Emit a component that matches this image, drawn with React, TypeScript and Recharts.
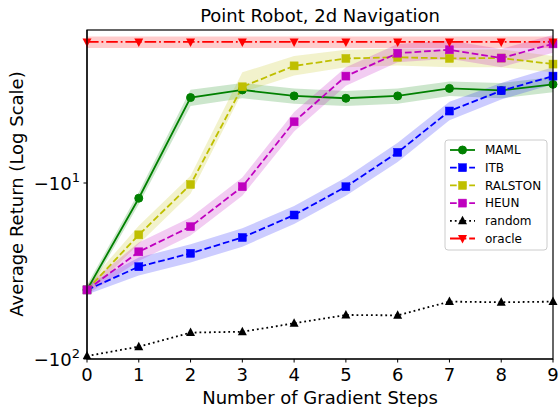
import React from 'react';
import { ComposedChart, Line, Area, XAxis, YAxis } from 'recharts';

const steps = [0, 1, 2, 3, 4, 5, 6, 7, 8, 9];

const mamlMean = [-40.5, -12.2, -3.27, -2.96, -3.2, -3.3, -3.2, -2.9, -2.98, -2.75];
const mamlLow = [-43, -13.2, -3.65, -3.3, -3.55, -3.65, -3.55, -3.2, -3.3, -3.05];
const mamlHigh = [-38, -11.3, -2.95, -2.7, -2.9, -3.0, -2.9, -2.65, -2.7, -2.5];

const itbMean = [-40.5, -29.9, -25.1, -20.4, -15.2, -10.5, -6.7, -3.9, -2.99, -2.47];
const itbLow = [-43, -33.5, -28.3, -23, -17.1, -11.8, -7.6, -4.4, -3.35, -2.75];
const itbHigh = [-38, -26.5, -22.3, -18.1, -13.5, -9.3, -5.9, -3.45, -2.7, -2.2];

const ralstonMean = [-40.5, -19.7, -10.2, -2.84, -2.16, -1.96, -1.93, -1.96, -1.95, -2.11];
const ralstonLow = [-43, -22.2, -11.5, -3.05, -2.45, -2.2, -2.15, -2.2, -2.2, -2.35];
const ralstonHigh = [-38, -17.5, -9.1, -2.35, -1.9, -1.75, -1.72, -1.75, -1.74, -1.9];

const heunMean = [-40.5, -24.6, -17.7, -10.5, -4.49, -2.47, -1.83, -1.75, -1.95, -1.62];
const heunLow = [-43, -27.7, -19.9, -11.8, -5.1, -2.8, -2.06, -1.97, -2.2, -1.82];
const heunHigh = [-38, -21.8, -15.7, -9.3, -3.95, -2.2, -1.62, -1.55, -1.73, -1.44];

const randomMean = [-96.2, -85.1, -70.8, -70, -62.7, -56.2, -56.5, -47.2, -47.6, -47.2];

const oracleMean = [-1.58, -1.58, -1.58, -1.58, -1.58, -1.58, -1.58, -1.58, -1.58, -1.58];
const oracleLow = [-1.71, -1.71, -1.71, -1.71, -1.71, -1.71, -1.71, -1.71, -1.71, -1.71];
const oracleHigh = [-1.47, -1.47, -1.47, -1.47, -1.47, -1.47, -1.47, -1.47, -1.47, -1.47];

const yTicks = [-100, -10];
const yTickExp = { '-100': '2', '-10': '1' } as Record<string, string>;

const data = steps.map((s, i) => ({
  step: s,
  maml: mamlMean[i],
  mamlBand: [mamlLow[i], mamlHigh[i]],
  itb: itbMean[i],
  itbBand: [itbLow[i], itbHigh[i]],
  ralston: ralstonMean[i],
  ralstonBand: [ralstonLow[i], ralstonHigh[i]],
  heun: heunMean[i],
  heunBand: [heunLow[i], heunHigh[i]],
  random: randomMean[i],
  oracle: oracleMean[i],
  oracleBand: [oracleLow[i], oracleHigh[i]],
}));

const FONT = 'DejaVu Sans';

// plot box (matches chart margins + axis sizes below)
const PLOT = { left: 87, top: 30, right: 553, bottom: 359 };

type MarkerKind = 'circle' | 'square' | 'up' | 'down';

const Marker = ({ kind, cx, cy, color }: { kind: MarkerKind; cx: number; cy: number; color: string }) => {
  if (kind === 'circle') return <circle cx={cx} cy={cy} r={4} fill={color} stroke={color} />;
  if (kind === 'square') return <rect x={cx - 4} y={cy - 4} width={8} height={8} fill={color} stroke={color} strokeWidth={0.5} />;
  if (kind === 'up')
    return <polygon points={`${cx},${cy - 5} ${cx - 4.5},${cy + 3.5} ${cx + 4.5},${cy + 3.5}`} fill={color} />;
  return <polygon points={`${cx},${cy + 5} ${cx - 4.5},${cy - 3.5} ${cx + 4.5},${cy - 3.5}`} fill={color} />;
};

const dotOf = (kind: MarkerKind, color: string) => (p: any) =>
  <Marker key={`${kind}-${color}-${p.index}`} kind={kind} cx={p.cx} cy={p.cy} color={color} />;

const series = [
  { key: 'maml', name: 'MAML', color: '#008000', dash: undefined, kind: 'circle' as MarkerKind, band: 'mamlBand' },
  { key: 'itb', name: 'ITB', color: '#0000ff', dash: '6.7 2.9', kind: 'square' as MarkerKind, band: 'itbBand' },
  { key: 'ralston', name: 'RALSTON', color: '#bfbf00', dash: '6.7 2.9', kind: 'square' as MarkerKind, band: 'ralstonBand' },
  { key: 'heun', name: 'HEUN', color: '#bf00bf', dash: '6.7 2.9', kind: 'square' as MarkerKind, band: 'heunBand' },
  { key: 'random', name: 'random', color: '#000000', dash: '1.8 3', kind: 'up' as MarkerKind, band: null },
  { key: 'oracle', name: 'oracle', color: '#ff0000', dash: '11.6 2.9 1.8 2.9', kind: 'down' as MarkerKind, band: 'oracleBand' },
];

const YTick = (props: any) => {
  const { x, y, payload } = props;
  return (
    <text x={x} y={y + 6.5} textAnchor="end" fontFamily={FONT} fontSize={18} fill="#000">
      <tspan>−10</tspan>
      <tspan dy={-8} fontSize={13}>{yTickExp[String(payload.value)]}</tspan>
    </text>
  );
};

const Legend = () => (
  <g>
    <rect x={445} y={140} width={102} height={110} rx={3} fill="#fff" fillOpacity={0.8} stroke="#ccc" />
    {series.map((s, i) => {
      const y = 150 + i * 17.7;
      return (
        <g key={s.key}>
          <line x1={450} x2={475} y1={y} y2={y} stroke={s.color} strokeWidth={1.8} strokeDasharray={s.dash} />
          <Marker kind={s.kind} cx={462.5} cy={y} color={s.color} />
          <text x={485} y={y + 4.3} fontFamily={FONT} fontSize={12} fill="#000">{s.name}</text>
        </g>
      );
    })}
  </g>
);

export default function App() {
  return (
    <div style={{ position: 'absolute', left: 0, top: 0, width: 559, height: 407, background: '#fff' }}>
      <ComposedChart width={559} height={407} data={data} margin={{ top: 30, right: 6, left: 0, bottom: 0 }}>
        <XAxis
          dataKey="step"
          type="number"
          domain={[0, 9]}
          ticks={steps}
          height={48}
          axisLine={{ stroke: '#000', strokeWidth: 1.2 }}
          tickLine={{ stroke: '#000' }}
          tickSize={3.5}
          tickMargin={6}
          tick={{ fill: '#000', fontSize: 18, fontFamily: FONT }}
          interval={0}
        />
        <YAxis
          type="number"
          scale="log"
          domain={[-100, -1.351]}
          allowDataOverflow
          ticks={yTicks}
          width={87}
          axisLine={{ stroke: '#000', strokeWidth: 1.2 }}
          tickLine={{ stroke: '#000' }}
          tickSize={3.5}
          tickMargin={3.5}
          tick={<YTick />}
          interval={0}
        />
        {series.flatMap((s) => {
          const els = [];
          if (s.band) {
            els.push(
              <Area key={s.key + '-band'} dataKey={s.band} stroke="none" fill={s.color} fillOpacity={0.2}
                isAnimationActive={false} dot={false} activeDot={false} type="linear" />
            );
          }
          els.push(
            <Line key={s.key} dataKey={s.key} stroke={s.color} strokeWidth={1.8} strokeDasharray={s.dash}
              dot={dotOf(s.kind, s.color)} activeDot={false} isAnimationActive={false} type="linear" />
          );
          return els;
        })}
      </ComposedChart>
      <svg width={559} height={407} style={{ position: 'absolute', left: 0, top: 0, pointerEvents: 'none' }}>
        <rect x={PLOT.left} y={PLOT.top} width={PLOT.right - PLOT.left} height={PLOT.bottom - PLOT.top}
          fill="none" stroke="#000" strokeWidth={1.2} />
        <text x={320} y={22} textAnchor="middle" fontFamily={FONT} fontSize={18} fill="#000">Point Robot, 2d Navigation</text>
        <text x={320} y={404} textAnchor="middle" fontFamily={FONT} fontSize={18} fill="#000">Number of Gradient Steps</text>
        <text transform="translate(23,194) rotate(-90)" textAnchor="middle" fontFamily={FONT} fontSize={18} fill="#000">Average Return (Log Scale)</text>
        <Legend />
      </svg>
    </div>
  );
}
